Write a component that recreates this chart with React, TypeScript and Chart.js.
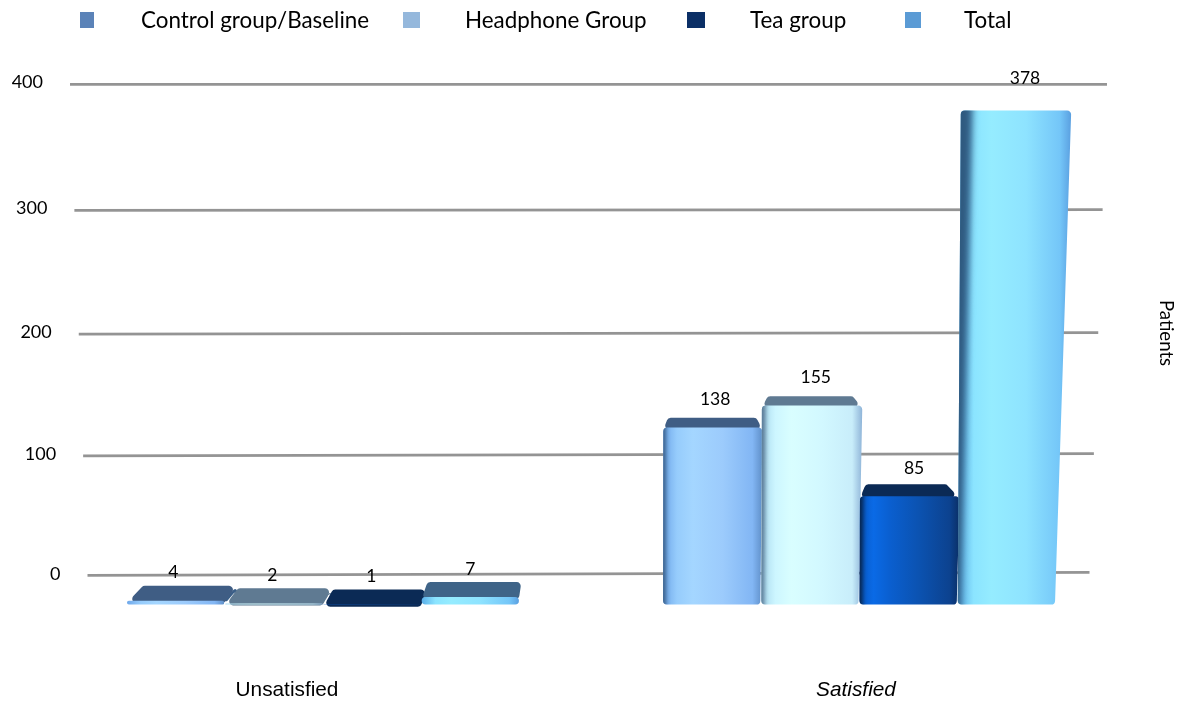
import React, { useEffect, useRef } from "react";
import { Chart, registerables, LinearScale, CategoryScale } from "chart.js";

Chart.register(...registerables);

const categories = ["Unsatisfied", "Satisfied"];
const controlValues = [4, 138];
const headphoneValues = [2, 155];
const teaValues = [1, 85];
const totalValues = [7, 378];
const seriesNames = ["Control group/Baseline", "Headphone Group", "Tea group", "Total"];
const legendColors = ["#5b83b8", "#95b8dc", "#0b2f66", "#5b9bd5"];

// Face colours of the extruded columns, one entry per series.
const frontStops = [
  ["#6fa8ea", "#96ccfc", "#a4d6ff", "#9ccbfc", "#82b6f4", "#5f8fc8"],
  ["#a9d9ee", "#cdf6ff", "#d9feff", "#d2f8ff", "#c8edfa", "#8fb4d8"],
  ["#0858c4", "#0a6ae6", "#0a5fd0", "#0b52b0", "#0c428f", "#0a2f66"],
  ["#5aaee8", "#8be4ff", "#95ecff", "#8ee3ff", "#74c6f8", "#5a9fe0"],
];
const stopOffsets = [0, 0.14, 0.3, 0.6, 0.9, 1];
const topColors = ["#3f5d84", "#5f7a92", "#0b2a55", "#3f6488"];
const sideColors = ["#3a5f88", "#5a7a96", "#07264f", "#2f5a80"];

// Perspective of the drawing: vanishing point, fan-out of tall columns, grid plane.
const vanishX = 588.5;
const horizonY = 100;
const fanRate = 0.035 / 495;
const leanRate = 5.4e-5;
const recedeRate = 0.035;
const depthRate = 0.03;
const tallStretch = 8;
const tallSpan = 488;
const gridBaseY = 573.5;
const gridTopY = 84;
const gridBow = 17;
const gridHalfBase = 501;
const gridHalfGrowth = 17.5;
const gridTilt = 1.5;
const labelOffsets = [-36, -3];
const legendMarkers = [
  { x: 80, w: 14 },
  { x: 403, w: 17 },
  { x: 687, w: 18 },
  { x: 905, w: 16 },
];
const legendTextX = [141, 465, 750, 964];

const sansFont = "Lato";
const captionFont = "'Liberation Sans'";

// Value axis whose grid and labels sit on the receding back wall.
class BackWallScale extends LinearScale {
  static id = "backWall";
  wallT(p: number) {
    return (this.bottom - p) / (this.bottom - this.top);
  }
  wallY(p: number) {
    const t = this.wallT(p);
    return gridBaseY - (gridBaseY - gridTopY) * t + gridBow * t * (1 - t);
  }
  wallHalf(p: number) {
    return gridHalfBase + gridHalfGrowth * this.wallT(p);
  }
  _computeLabelArea() {
    return undefined;
  }
  _computeGridLineItems(area: any) {
    const items = super._computeGridLineItems(area);
    items.forEach((it: any) => {
      const p = it.y1;
      const lean = gridTilt * (1 - this.wallT(p));
      const half = this.wallHalf(p);
      const y = this.wallY(p);
      it.x1 = vanishX - half;
      it.x2 = vanishX + half;
      it.y1 = y + lean;
      it.y2 = y - lean;
    });
    return items;
  }
  _computeLabelItems(area: any) {
    const items = super._computeLabelItems(area);
    items.forEach((it: any) => {
      const p = it.options.translation[1];
      const nudge = Math.max(-2, 1 - 3 * this.wallT(p));
      it.options.translation = [vanishX - this.wallHalf(p) - 27, this.wallY(p) + nudge];
    });
    return items;
  }
}

// Category axis with captions nudged off the column groups.
class CaptionScale extends CategoryScale {
  static id = "captionCategory";
  _computeLabelItems(area: any) {
    const items = super._computeLabelItems(area);
    items.forEach((it: any, i: number) => {
      const [x, y] = it.options.translation;
      it.options.translation = [x + labelOffsets[i], y];
    });
    return items;
  }
}

// Right-hand axis that only carries the rotated title.
class SideTitleScale extends LinearScale {
  static id = "sideTitle";
  drawTitle() {
    const ctx = (this as any).ctx;
    ctx.save();
    ctx.translate(0, -15);
    super.drawTitle();
    ctx.restore();
  }
}

Chart.register(BackWallScale, CaptionScale, SideTitleScale);

function fanX(px: number, h: number) {
  return vanishX + (px - vanishX) * (1 + fanRate * h);
}

// Tall columns grow slightly towards the viewer at the top of the frame.
function stretch(h: number) {
  return tallStretch * Math.pow(h / tallSpan, 3);
}

function roundedPath(ctx: CanvasRenderingContext2D, pts: number[][], r: number) {
  const radius = Math.max(0, r);
  ctx.beginPath();
  const n = pts.length;
  const a = pts[n - 1];
  const b = pts[0];
  ctx.moveTo((a[0] + b[0]) / 2, (a[1] + b[1]) / 2);
  for (let i = 0; i < n; i++) {
    const p = pts[i];
    const q = pts[(i + 1) % n];
    ctx.arcTo(p[0], p[1], (p[0] + q[0]) / 2, (p[1] + q[1]) / 2, radius);
  }
  ctx.closePath();
}

function drawColumn(ctx: CanvasRenderingContext2D, bar: any, series: number) {
  const props = bar.getProps(["x", "y", "base", "width"], true);
  const { x, base, width } = props;
  const y = props.y - stretch(base - props.y);
  const h = base - y;
  const left = x - width / 2 + 0.5;
  const right = x + width / 2 - 0.5;
  const topL = fanX(left, h);
  const topR = fanX(right, h);
  const recede = (px: number) => px + (vanishX - px) * recedeRate;
  const depth = (y - horizonY) * depthRate;
  const backY = y - depth;
  const onRight = x > vanishX;
  const backL = onRight ? topL + 4 : recede(topL);
  const backR = recede(topR);
  const lean = onRight ? (left - vanishX) * h * leanRate : 0;

  ctx.save();

  // Right wall of the low columns left of the vanishing point.
  if (!onRight && backR - topR > 4) {
    ctx.fillStyle = sideColors[series];
    roundedPath(
      ctx,
      [
        [right, base],
        [topR, y],
        [backR, backY],
        [recede(right), base - (base - horizonY) * depthRate],
      ],
      2,
    );
    ctx.fill();
  }

  // Lid, only visible on columns that stand well below the horizon.
  if (depth > 3) {
    ctx.fillStyle = topColors[series];
    roundedPath(
      ctx,
      [
        [topL - lean, y + 2],
        [topR, y + 2],
        [backR, backY],
        [backL, backY],
      ],
      4,
    );
    ctx.fill();
  }

  // Front and lean-out silhouette, clipped so the soft edge shading stays inside.
  const outline = [
    [left, base],
    [topL - lean, y],
    [topR, y],
    [right, base],
  ];
  ctx.save();
  roundedPath(ctx, outline, Math.min(4, h / 2));
  ctx.clip();
  const grad = ctx.createLinearGradient(left, 0, Math.max(right, topR), 0);
  frontStops[series].forEach((c, i) => grad.addColorStop(stopOffsets[i], c));
  ctx.fillStyle = grad;
  ctx.fillRect(left - 20, y - 2, right - left + 50, h + 4);
  if (onRight) {
    ctx.filter = `blur(${1.5 + h * 0.004}px)`;
    ctx.fillStyle = sideColors[series];
    ctx.beginPath();
    ctx.moveTo(left - 8, base + 8);
    ctx.lineTo(topL - lean - 8, y - 8);
    ctx.lineTo(topL + 2, y - 8);
    ctx.lineTo(left + 3, base + 8);
    ctx.closePath();
    ctx.fill();
    ctx.filter = "none";
  }
  ctx.restore();
  ctx.restore();
}

// The columns are painted in one left-to-right pass so they can carry lids and receding walls.
const columnsPlugin = {
  id: "columns3d",
  beforeDatasetsDraw(chart: any) {
    chart.data.datasets.forEach((_: any, i: number) => {
      chart.getDatasetMeta(i).data.forEach((bar: any) => drawColumn(chart.ctx, bar, i));
    });
  },
  beforeDatasetDraw() {
    return false;
  },
};

const valueLabelsPlugin = {
  id: "valueLabels",
  afterDatasetsDraw(chart: any) {
    const { ctx } = chart;
    ctx.save();
    ctx.font = `17.5px ${sansFont}`;
    ctx.fillStyle = "#000";
    ctx.textAlign = "center";
    ctx.textBaseline = "middle";
    chart.data.datasets.forEach((ds: any, i: number) => {
      chart.getDatasetMeta(i).data.forEach((bar: any, j: number) => {
        const h = bar.base - bar.y;
        const lx = fanX(bar.x, h) + (bar.x - vanishX) * 0.008 + 1;
        ctx.fillText(String(ds.data[j]), lx, bar.y - 28 - 1.5 * stretch(h));
      });
    });
    ctx.restore();
  },
};

const legendRowPlugin = {
  id: "legendRow",
  afterDraw(chart: any) {
    const { ctx } = chart;
    ctx.save();
    ctx.font = `22.4px ${sansFont}`;
    ctx.textBaseline = "middle";
    ctx.textAlign = "left";
    chart.data.datasets.forEach((ds: any, i: number) => {
      ctx.fillStyle = ds.backgroundColor;
      ctx.fillRect(legendMarkers[i].x, 12, legendMarkers[i].w, 16);
      ctx.fillStyle = "#000";
      ctx.fillText(ds.label, legendTextX[i], 21);
    });
    ctx.restore();
  },
};

export default function App() {
  const ref = useRef<HTMLCanvasElement>(null);
  useEffect(() => {
    const seriesValues = [controlValues, headphoneValues, teaValues, totalValues];
    const chart = new Chart(ref.current!, {
      type: "bar",
      data: {
        labels: categories,
        datasets: seriesValues.map((data, i) => ({
          label: seriesNames[i],
          data,
          backgroundColor: legendColors[i],
          categoryPercentage: 0.733,
          barPercentage: 1,
        })) as any,
      },
      options: {
        responsive: false,
        animation: false,
        layout: { padding: { top: 90, left: 0, right: 0, bottom: 0 } },
        plugins: { legend: { display: false }, tooltip: { enabled: false }, title: { display: false } },
        scales: {
          x: {
            type: "captionCategory",
            grid: { display: false },
            border: { display: false },
            ticks: {
              maxRotation: 0,
              padding: 64,
              color: "#000",
              font: (c: any) => ({
                family: captionFont,
                size: 20.8,
                style: c.index === 1 ? "italic" : "normal",
              }),
            },
            afterFit: (s: any) => {
              s.height = 96;
            },
          },
          y: {
            type: "backWall",
            position: "left",
            min: 0,
            max: 400,
            grid: { color: "#949494", lineWidth: 2.8, drawTicks: false },
            border: { display: false },
            ticks: { stepSize: 100, color: "#000", font: { family: sansFont, size: 18 } },
            afterFit: (s: any) => {
              s.width = 55;
            },
          },
          y2: {
            type: "sideTitle",
            position: "right",
            min: 0,
            max: 400,
            grid: { display: false },
            border: { display: false },
            ticks: { display: false },
            title: {
              display: true,
              text: "Patients",
              color: "#000",
              padding: { top: 0, bottom: 8 },
              font: { family: sansFont, size: 18.6 },
            },
            afterFit: (s: any) => {
              s.width = 50;
            },
          },
        },
      } as any,
      plugins: [columnsPlugin, valueLabelsPlugin, legendRowPlugin],
    });
    return () => chart.destroy();
  }, []);
  return (
    <div style={{ position: "absolute", left: 0, top: 0, width: 1177, height: 702, background: "#fff" }}>
      <canvas ref={ref} width={1177} height={702} style={{ display: "block" }} />
    </div>
  );
}
